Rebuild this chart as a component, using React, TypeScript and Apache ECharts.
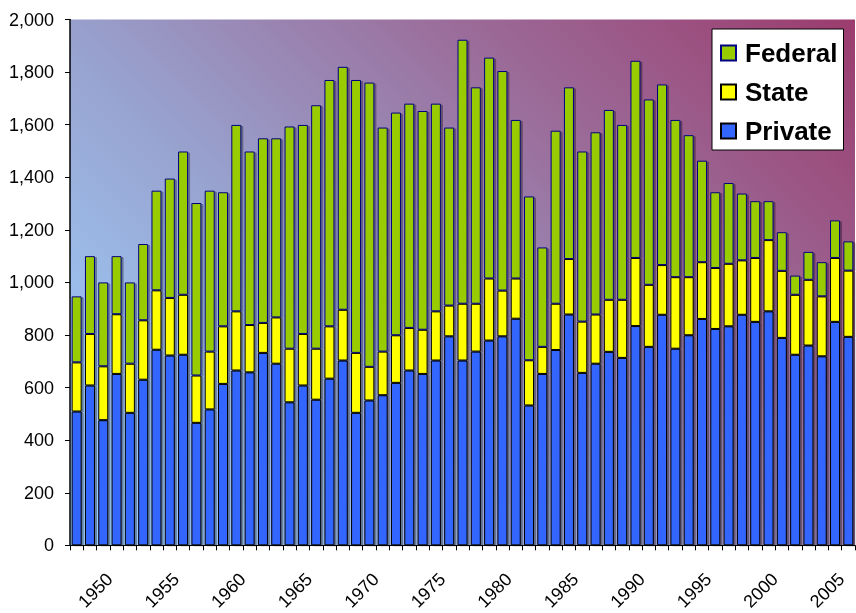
import React, { useEffect, useRef } from "react";
import * as echarts from "echarts";

const years: string[] = [];
for (let y = 1948; y <= 2006; y++) years.push(String(y));

const privateVals = [
  509, 608, 476, 652, 504, 630, 744, 722, 725, 466,
  517, 614, 665, 658, 732, 691, 544, 608, 554, 634,
  703, 504, 551, 571, 618, 665, 652, 703, 795, 703,
  737, 779, 795, 862, 532, 652, 743, 878, 656, 691,
  736, 713, 834, 755, 877, 748, 799, 861, 823, 833,
  877, 850, 890, 789, 725, 760, 719, 850, 793,
];
const stateVals = [
  187, 196, 205, 227, 187, 226, 226, 219, 228, 180,
  220, 219, 225, 180, 114, 176, 204, 196, 194, 199,
  193, 228, 128, 166, 181, 162, 168, 187, 117, 216,
  182, 236, 174, 153, 172, 103, 176, 211, 195, 187,
  198, 221, 259, 236, 189, 272, 221, 216, 232, 238,
  207, 243, 271, 255, 228, 250, 228, 243, 252,
];
const federalVals = [
  251, 296, 319, 221, 309, 290, 379, 454, 545, 656,
  612, 510, 709, 660, 702, 681, 845, 795, 926, 937,
  924, 1038, 1081, 852, 847, 853, 832, 790, 677, 1004,
  823, 840, 835, 603, 623, 378, 658, 653, 647, 693,
  722, 665, 750, 705, 687, 598, 540, 386, 288, 307,
  254, 216, 148, 147, 73, 106, 130, 143, 111,
];
const yTicks = { min: 0, max: 2000, interval: 200 };

const FONT = "'Liberation Sans', Arial, sans-serif";

export default function App() {
  const ref = useRef<HTMLDivElement>(null);
  useEffect(() => {
    if (!ref.current) return;
    const chart = echarts.init(ref.current, undefined, { renderer: "svg" });
    const bg = new echarts.graphic.LinearGradient(
      70, 546, 724.5, -108.5,
      [
        { offset: 0, color: "rgb(153,204,255)" },
        { offset: 0.23, color: "rgb(155,185,230)" },
        { offset: 0.4, color: "rgb(152,160,205)" },
        { offset: 0.68, color: "rgb(155,110,155)" },
        { offset: 1, color: "rgb(155,60,110)" },
      ],
      true
    );
    const shadow = {
      shadowColor: "rgba(0,0,0,0.35)",
      shadowOffsetX: 2,
      shadowOffsetY: 1,
      shadowBlur: 0,
    };
    const mk = (name: string, data: number[], color: string, border: string) => ({
      name,
      type: "bar",
      stack: "total",
      data,
      barWidth: 10,
      itemStyle: { color, borderColor: border, borderWidth: 1, ...shadow },
      emphasis: { disabled: true },
    });
    chart.setOption({
      animation: false,
      textStyle: { fontFamily: FONT },
      grid: {
        left: 70,
        right: 1,
        top: 19.5,
        bottom: 67,
        show: true,
        backgroundColor: bg,
        borderWidth: 0,
      },
      legend: {
        orient: "vertical",
        left: 712,
        top: 29,
        data: ["Federal", "State", "Private"],
        backgroundColor: "#ffffff",
        borderColor: "#000000",
        borderWidth: 1,
        borderRadius: 0,
        padding: [11, 6, 6, 8],
        itemWidth: 15,
        itemHeight: 15,
        itemGap: 13,
        icon: "rect",
        itemStyle: { shadowColor: "transparent", shadowOffsetX: 0, shadowOffsetY: 0 },
        textStyle: {
          fontFamily: FONT,
          fontSize: 26,
          fontWeight: "bold",
          color: "#000",
          padding: [0, 0, 0, 4],
        },
      },
      xAxis: {
        type: "category",
        data: years,
        boundaryGap: true,
        axisLine: { lineStyle: { color: "#000", width: 1 } },
        axisTick: { show: true, interval: 0, length: 5, lineStyle: { color: "#000" } },
        axisLabel: {
          interval: (_i: number, v: string) => Number(v) % 5 === 0,
          rotate: 45,
          margin: 24.5,
          align: "right",
          verticalAlign: "top",
          fontSize: 18,
          color: "#000",
          fontFamily: FONT,
        },
      },
      yAxis: {
        type: "value",
        min: yTicks.min,
        max: yTicks.max,
        interval: yTicks.interval,
        axisLine: { show: true, lineStyle: { color: "#000", width: 1.5 } },
        axisTick: { show: true, length: 5, lineStyle: { color: "#000" } },
        axisLabel: {
          margin: 16,
          fontSize: 18,
          color: "#000",
          fontFamily: FONT,
          formatter: (v: number) => v.toLocaleString("en-US"),
        },
        splitLine: {
          show: true,
          lineStyle: {
            color: "#111",
            width: 1,
            shadowColor: "rgba(0,0,0,0.35)",
            shadowOffsetY: 1.5,
            shadowBlur: 0,
          },
        },
      },
      series: [
        mk("Private", privateVals, "#3366FF", "#000000"),
        mk("State", stateVals, "#FFFF00", "#000000"),
        mk("Federal", federalVals, "#99CC00", "#000080"),
      ],
    });
    return () => chart.dispose();
  }, []);
  return (
    <div
      ref={ref}
      style={{ position: "fixed", left: 0, top: 0, width: 856, height: 613 }}
    />
  );
}
